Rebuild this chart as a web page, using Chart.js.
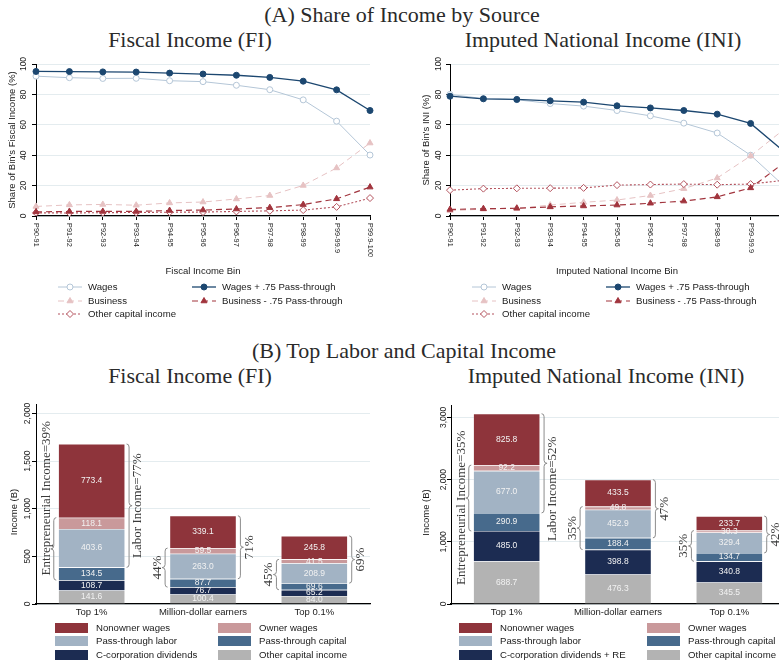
<!DOCTYPE html>
<html>
<head>
<meta charset="utf-8">
<script src="https://cdn.jsdelivr.net/npm/chart.js@4.4.1/dist/chart.umd.min.js"></script>
<style>
  html, body { margin: 0; padding: 0; background: #fff; overflow: hidden; width: 779px; height: 663px; }
  .box { position: absolute; }
  .ttl { position: absolute; font-family: "Liberation Serif", "Times New Roman", serif; font-size: 22px;
         color: #2a2a2a; white-space: nowrap; transform: translateX(-50%); line-height: 22px; }
</style>
</head>
<body>
<div class="ttl" style="left:402px; top:4px">(A) Share of Income by Source</div>
<div class="ttl" style="left:190px; top:29px">Fiscal Income (FI)</div>
<div class="ttl" style="left:603px; top:29px">Imputed National Income (INI)</div>
<div class="ttl" style="left:404px; top:340px">(B) Top Labor and Capital Income</div>
<div class="ttl" style="left:190px; top:365px">Fiscal Income (FI)</div>
<div class="ttl" style="left:606px; top:365px">Imputed National Income (INI)</div>

<div class="box" style="left:0; top:50px"><canvas id="fiShare" width="389" height="275"></canvas></div>
<div class="box" style="left:389px; top:50px"><canvas id="iniShare" width="400" height="275"></canvas></div>
<div class="box" style="left:0; top:390px"><canvas id="fiTop" width="389" height="273"></canvas></div>
<div class="box" style="left:389px; top:390px"><canvas id="iniTop" width="400" height="273"></canvas></div>

<script>
/* ─── Data: panel A (share of bin's income, %) ─── */
const bins = ["P90-91", "P91-92", "P92-93", "P93-94", "P94-95", "P95-96", "P96-97", "P97-98", "P98-99", "P99-99.9", "P99.9-100"];

const fiWages      = [92, 91, 90.5, 90.6, 89, 88.4, 86, 83.1, 76.4, 62.4, 40.1];
const fiWagesPT    = [95.1, 95, 94.8, 94.7, 94, 93.4, 92.6, 91.2, 88.7, 83, 69.4];
const fiBusiness   = [6.3, 7.3, 7.6, 7.1, 8.6, 9.2, 11.2, 13.5, 20.1, 31.6, 48];
const fiBusinessPT = [2.7, 3, 3, 3, 3.6, 3.9, 4.6, 5.5, 7.5, 11.3, 19];
const fiOther      = [2.1, 2, 2.2, 2.3, 2.5, 2.6, 3, 3.4, 3.9, 6, 11.8];

const iniWages      = [80, 77.2, 76.5, 74, 72.3, 69.4, 65.9, 61.1, 54.6, 40, 19.8];
const iniWagesPT    = [78.8, 77.1, 76.7, 75.8, 74.9, 72.5, 71.1, 69.4, 67, 60.9, 42.5];
const iniBusiness   = [3.5, 4.5, 5, 7.2, 9, 10.5, 13.5, 18, 25, 39.5, 57];
const iniBusinessPT = [4.3, 4.8, 5.1, 6, 6.6, 7.2, 8.4, 9.8, 12.6, 18.5, 35];
const iniOther      = [17, 18, 18.2, 18.3, 18.5, 20.3, 20.7, 21, 20.6, 21, 23.5];

const shareTicks = [0, 20, 40, 60, 80, 100];

/* ─── Data: panel B (income, $B) ─── */
const groups = ["Top 1%", "Million-dollar earners", "Top 0.1%"];

const fiOtherCap  = [141.6, 100.4, 84.0];
const fiCcorp     = [108.7, 76.7, 65.2];
const fiPTcap     = [134.5, 87.7, 69.6];
const fiPTlab     = [403.6, 263.0, 208.9];
const fiOwner     = [118.1, 59.5, 41.5];
const fiNonowner  = [773.4, 339.1, 245.8];

const iniOtherCap = [688.7, 476.3, 345.5];
const iniCcorp    = [485.0, 398.8, 340.8];
const iniPTcap    = [290.9, 188.4, 134.7];
const iniPTlab    = [677.0, 452.9, 329.4];
const iniOwner    = [92.2, 49.8, 30.3];
const iniNonowner = [825.8, 433.5, 233.7];

const fiIncomeTicks  = [0, 500, 1000, 1500, 2000];
const iniIncomeTicks = [0, 1000, 2000, 3000];

/* ─── Shared style ─── */
const SANS = '"Liberation Sans", Arial, sans-serif';
const SERIF = '"Liberation Serif", "Times New Roman", serif';
const INK = "#1a1a1a";
const GRID = "#e4ecef";

Chart.defaults.font.family = SANS;
Chart.defaults.animation = false;

function rotText(ctx, txt, x, y, ang, align) {
  ctx.save();
  ctx.translate(x, y);
  ctx.rotate(ang);
  ctx.textAlign = align || "center";
  ctx.textBaseline = "middle";
  ctx.fillText(txt, 0, 0);
  ctx.restore();
}

/* Stata-like axes: rotated y labels, custom x labels, titles */
const stataAxes = {
  id: "stataAxes",
  afterDraw(chart, args, o) {
    const ctx = chart.ctx, a = chart.chartArea, x = chart.scales.x, y = chart.scales.y;
    ctx.save();
    ctx.fillStyle = INK;
    ctx.font = o.yTickFont;
    y.ticks.forEach(t => rotText(ctx, t.value.toLocaleString("en-US"), a.left - o.yTickGap, y.getPixelForValue(t.value), -Math.PI / 2));
    ctx.font = o.titleFont;
    rotText(ctx, o.yTitle, a.left - o.yTitleGap, (a.top + a.bottom) / 2 + (o.yTitleShift || 0), -Math.PI / 2);
    ctx.font = o.xTickFont;
    chart.data.labels.forEach((lab, i) => {
      const px = x.getPixelForValue(i);
      if (o.xRotated) rotText(ctx, lab, px, a.bottom + o.xTickGap, Math.PI / 2, "left");
      else rotText(ctx, lab, px, a.bottom + o.xTickGap, 0);
    });
    if (o.xTitle) {
      ctx.font = o.titleFont;
      rotText(ctx, o.xTitle, (a.left + a.right) / 2, a.bottom + o.xTitleGap, 0);
    }
    ctx.restore();
  }
};

/* Legend laid out in a fixed grid like Stata */
const stataLegend = {
  id: "stataLegend",
  afterDraw(chart, args, o) {
    const ctx = chart.ctx;
    ctx.save();
    ctx.font = o.font;
    ctx.textBaseline = "middle";
    ctx.textAlign = "left";
    o.items.forEach(it => {
      const ds = chart.data.datasets[it.ds];
      const yy = o.rows[it.row], x0 = o.cols[it.col];
      if (chart.config.type === "line") {
        ctx.save();
        ctx.strokeStyle = ds.borderColor;
        ctx.lineWidth = ds.borderWidth;
        ctx.setLineDash(ds.borderDash || []);
        ctx.beginPath();
        ctx.moveTo(x0, yy);
        ctx.lineTo(x0 + o.keyW, yy);
        ctx.stroke();
        ctx.setLineDash([]);
        ctx.fillStyle = ds.pointBackgroundColor;
        ctx.strokeStyle = ds.pointBorderColor;
        ctx.lineWidth = ds.pointBorderWidth;
        Chart.helpers.drawPoint(ctx, { pointStyle: ds.pointStyle, radius: ds.pointRadius, rotation: 0, borderWidth: ds.pointBorderWidth }, x0 + o.keyW / 2, yy);
        ctx.restore();
      } else {
        ctx.fillStyle = ds.backgroundColor;
        ctx.fillRect(x0, yy - o.keyH / 2, o.keyW, o.keyH);
      }
      ctx.fillStyle = INK;
      ctx.fillText(ds.label, x0 + o.keyW + o.gap, yy);
    });
    ctx.restore();
  }
};

/* Segment values + curly braces with shares */
function brace(ctx, xe, yTop, yBot, dir) {
  const xs = xe + dir * 2.5, xt = xe + dir * 5.5, r = 3, mid = (yTop + yBot) / 2;
  ctx.beginPath();
  ctx.moveTo(xe, yTop);
  ctx.quadraticCurveTo(xs, yTop, xs, yTop + r);
  ctx.lineTo(xs, mid - r);
  ctx.quadraticCurveTo(xs, mid, xt, mid);
  ctx.quadraticCurveTo(xs, mid, xs, mid + r);
  ctx.lineTo(xs, yBot - r);
  ctx.quadraticCurveTo(xs, yBot, xe, yBot);
  ctx.stroke();
}

const braces = {
  id: "braces",
  afterDatasetsDraw(chart, args, o) {
    const ctx = chart.ctx, y = chart.scales.y, sets = chart.data.datasets;
    ctx.save();
    ctx.font = o.valueFont;
    ctx.fillStyle = "#f2f2f2";
    ctx.textAlign = "center";
    ctx.textBaseline = "middle";
    sets.forEach((d, di) => chart.getDatasetMeta(di).data.forEach((el, i) => {
      ctx.fillText(d.data[i].toFixed(1), el.x, (el.y + el.base) / 2);
    }));

    ctx.strokeStyle = "#8c8c8c";
    ctx.lineWidth = 1;
    ctx.fillStyle = "#3a3a3a";
    ctx.font = o.textFont;
    chart.data.labels.forEach((lab, i) => {
      const el = chart.getDatasetMeta(0).data[i];
      const left = el.x - el.width / 2, right = el.x + el.width / 2;
      const cum = k => sets.slice(0, k).reduce((s, d) => s + d.data[i], 0);
      const total = cum(sets.length);
      o.groups.forEach(g => {
        const lo = cum(g.from), hi = cum(g.to + 1);
        const pct = Math.round((hi - lo) / total * 100) + "%";
        const yTop = y.getPixelForValue(hi), yBot = y.getPixelForValue(lo);
        const dir = g.side === "left" ? -1 : 1;
        brace(ctx, dir < 0 ? left - 2 : right + 1.5, yTop, yBot, dir);
        const txt = i === 0 ? g.name + "=" + pct : pct;
        const ty = g.at && g.at[i] != null ? y.getPixelForValue(g.at[i]) : (yTop + yBot) / 2;
        rotText(ctx, txt, dir < 0 ? left - 12 : right + 13, ty, -Math.PI / 2);
      });
    });
    ctx.restore();
  }
};

/* ─── Panel A: line charts ─── */
const C_WAGE = "#b4c6d7", C_WAGEPT = "#1c4770", C_BUS = "#e6c2c3", C_BUSPT = "#a1343d", C_OTH = "#b4535e";

function shareChart(id, series, opt) {
  const [w, wpt, b, bpt, oth] = series;
  new Chart(document.getElementById(id), {
    type: "line",
    data: {
      labels: bins,
      datasets: [
        { label: "Wages", data: w, borderColor: C_WAGE, borderWidth: 1, pointStyle: "circle", pointRadius: 3,
          pointBackgroundColor: "#fff", pointBorderColor: C_WAGE, pointBorderWidth: 1, order: 5 },
        { label: "Wages + .75 Pass-through", data: wpt, borderColor: C_WAGEPT, borderWidth: 1.3, pointStyle: "circle", pointRadius: 3,
          pointBackgroundColor: C_WAGEPT, pointBorderColor: C_WAGEPT, pointBorderWidth: 1, order: 1 },
        { label: "Business", data: b, borderColor: C_BUS, borderWidth: 1, borderDash: [6, 4], pointStyle: "triangle", pointRadius: 3.5,
          pointBackgroundColor: C_BUS, pointBorderColor: C_BUS, pointBorderWidth: 1, order: 4 },
        { label: "Business - .75 Pass-through", data: bpt, borderColor: C_BUSPT, borderWidth: 1.2, borderDash: [6, 4], pointStyle: "triangle", pointRadius: 3.5,
          pointBackgroundColor: C_BUSPT, pointBorderColor: C_BUSPT, pointBorderWidth: 1, order: 2 },
        { label: "Other capital income", data: oth, borderColor: C_OTH, borderWidth: 1.1, borderDash: [2, 2], pointStyle: "rectRot", pointRadius: 3.5,
          pointBackgroundColor: "#fff", pointBorderColor: C_OTH, pointBorderWidth: 1, order: 3 },
      ],
    },
    options: {
      responsive: false,
      events: [],
      layout: { padding: opt.padding },
      elements: { line: { tension: 0 } },
      plugins: {
        legend: { display: false },
        tooltip: { enabled: false },
        stataAxes: {
          yTickFont: "8.5px " + SANS, xTickFont: "7.4px " + SANS, titleFont: "9.5px " + SANS,
          yTickGap: opt.yTickGap, yTitleGap: opt.yTitleGap, yTitle: opt.yTitle,
          xRotated: true, xTickGap: 7, xTitle: opt.xTitle, xTitleGap: 55,
        },
        stataLegend: {
          font: "9.6px " + SANS, keyW: 24, gap: 6, rows: [237, 251, 264], cols: opt.legendCols,
          items: [{ ds: 0, row: 0, col: 0 }, { ds: 1, row: 0, col: 1 }, { ds: 2, row: 1, col: 0 }, { ds: 3, row: 1, col: 1 }, { ds: 4, row: 2, col: 0 }],
        },
      },
      scales: {
        x: {
          offset: false,
          afterFit: s => { s.height = 0; },
          ticks: { display: false },
          grid: { drawOnChartArea: false, tickLength: 4, tickColor: "#000" },
          border: { color: "#000", width: 1.2 },
        },
        y: {
          min: 0, max: 100,
          afterFit: s => { s.width = 0; },
          afterBuildTicks: s => { s.ticks = shareTicks.map(v => ({ value: v })); },
          ticks: { display: false },
          grid: { color: GRID, tickLength: 4, tickColor: "#000" },
          border: { color: "#000", width: 1 },
        },
      },
    },
    plugins: [stataAxes, stataLegend],
  });
}

shareChart("fiShare", [fiWages, fiWagesPT, fiBusiness, fiBusinessPT, fiOther], {
  padding: { left: 36, right: 19, top: 14, bottom: 109 },
  yTickGap: 12, yTitleGap: 24, yTitle: "Share of Bin's Fiscal Income (%)",
  xTitle: "Fiscal Income Bin", legendCols: [58, 192],
});
shareChart("iniShare", [iniWages, iniWagesPT, iniBusiness, iniBusinessPT, iniOther], {
  padding: { left: 61, right: 5, top: 14, bottom: 109 },
  yTickGap: 11, yTitleGap: 24, yTitle: "Share of Bin's INI (%)",
  xTitle: "Imputed National Income Bin", legendCols: [83, 217],
});

/* ─── Panel B: stacked bars ─── */
const BAR_COLORS = ["#b3b3b3", "#1c2c52", "#476a8c", "#a2b3c4", "#c9999b", "#8e343b"];

function topChart(id, series, opt) {
  const names = ["Other capital income", opt.ccorpName, "Pass-through capital", "Pass-through labor", "Owner wages", "Nonowner wages"];
  new Chart(document.getElementById(id), {
    type: "bar",
    data: {
      labels: groups,
      datasets: series.map((d, k) => ({
        label: names[k], data: d, backgroundColor: BAR_COLORS[k],
        borderColor: "rgba(255,255,255,0.35)", borderWidth: 0.6, stack: "s",
      })),
    },
    options: {
      responsive: false,
      events: [],
      layout: { padding: opt.padding },
      datasets: { bar: { barPercentage: 0.6, categoryPercentage: 1 } },
      plugins: {
        legend: { display: false },
        tooltip: { enabled: false },
        stataAxes: {
          yTickFont: "8.5px " + SANS, xTickFont: "9.5px " + SANS, titleFont: "9.5px " + SANS,
          yTickGap: opt.yTickGap, yTitleGap: opt.yTitleGap, yTitle: "Income (B)", yTitleShift: 8,
          xRotated: false, xTickGap: 8,
        },
        stataLegend: {
          font: "9.6px " + SANS, keyW: 33, keyH: 10, gap: 8, rows: [238, 251, 265], cols: opt.legendCols,
          items: [{ ds: 5, row: 0, col: 0 }, { ds: 4, row: 0, col: 1 }, { ds: 3, row: 1, col: 0 }, { ds: 2, row: 1, col: 1 }, { ds: 1, row: 2, col: 0 }, { ds: 0, row: 2, col: 1 }],
        },
        braces: {
          valueFont: "8.5px " + SANS, textFont: "13px " + SERIF,
          groups: [
            { from: 2, to: 4, side: "left", name: "Entrepreneurial Income", at: opt.entAt },
            { from: 3, to: 5, side: "right", name: "Labor Income", at: opt.labAt },
          ],
        },
      },
      scales: {
        x: {
          stacked: true,
          afterFit: s => { s.height = 0; },
          ticks: { display: false },
          grid: { display: false },
          border: { color: "#000", width: 1.2 },
        },
        y: {
          stacked: true, min: 0, max: opt.max,
          afterFit: s => { s.width = 0; },
          afterBuildTicks: s => { s.ticks = opt.ticks.map(v => ({ value: v })); },
          ticks: { display: false },
          grid: { color: GRID, tickLength: 4, tickColor: "#000" },
          border: { color: "#000", width: 1 },
        },
      },
    },
    plugins: [stataAxes, stataLegend, braces],
  });
}

topChart("fiTop", [fiOtherCap, fiCcorp, fiPTcap, fiPTlab, fiOwner, fiNonowner], {
  ccorpName: "C-corporation dividends", max: 2100, ticks: fiIncomeTicks,
  padding: { left: 36, right: 19, top: 14, bottom: 59 },
  yTickGap: 8, yTitleGap: 22, legendCols: [55, 218],
  entAt: [1110, null, null], labAt: null,
});
topChart("iniTop", [iniOtherCap, iniCcorp, iniPTcap, iniPTlab, iniOwner, iniNonowner], {
  ccorpName: "C-corporation dividends + RE", max: 3200, ticks: iniIncomeTicks,
  padding: { left: 62, right: 4, top: 15, bottom: 59 },
  yTickGap: 7, yTitleGap: 25, legendCols: [70, 258],
  entAt: [1546, null, null], labAt: [1852, null, null],
});
</script>
</body>
</html>
